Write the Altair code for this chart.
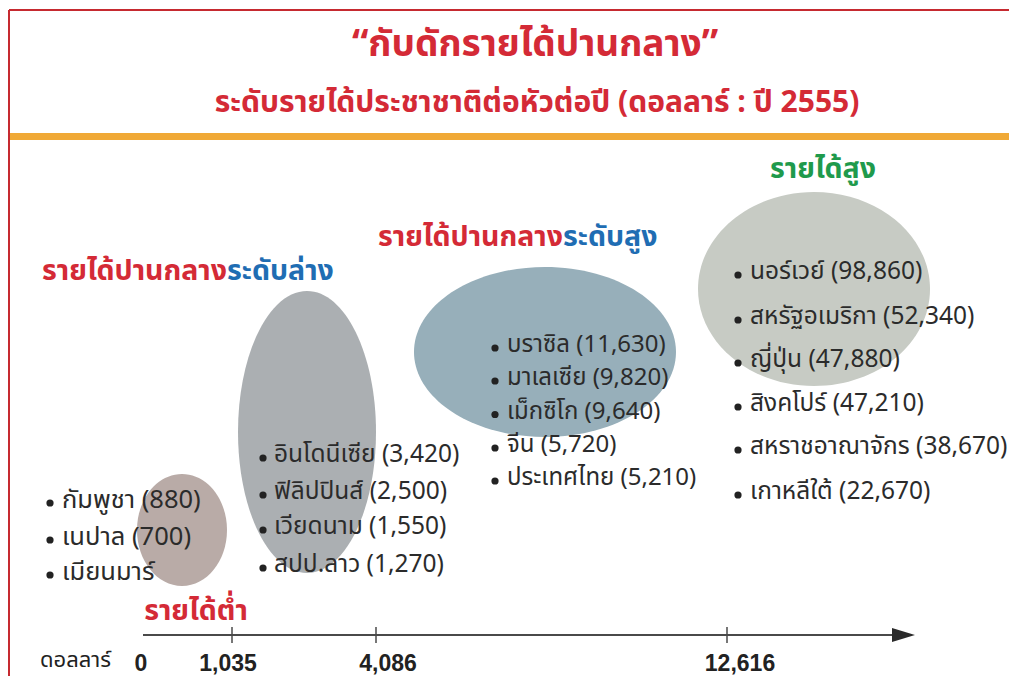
import altair as alt
import pandas as pd

# ---------------- data ----------------
title = "“กับดักรายได้ปานกลาง”"
subtitle = "ระดับรายได้ประชาชาติต่อหัวต่อปี (ดอลลาร์ : ปี 2555)"

low_label = "รายได้ต่ำ"
lm_label = ["รายได้ปานกลาง", "ระดับล่าง"]
um_label = ["รายได้ปานกลาง", "ระดับสูง"]
high_label = "รายได้สูง"

low_countries = ["กัมพูชา", "เนปาล", "เมียนมาร์"]
low_income = [880, 700, None]
lm_countries = ["อินโดนีเซีย", "ฟิลิปปินส์", "เวียดนาม", "สปป.ลาว"]
lm_income = [3420, 2500, 1550, 1270]
um_countries = ["บราซิล", "มาเลเซีย", "เม็กซิโก", "จีน", "ประเทศไทย"]
um_income = [11630, 9820, 9640, 5720, 5210]
high_countries = ["นอร์เวย์", "สหรัฐอเมริกา", "ญี่ปุ่น", "สิงคโปร์", "สหราชอาณาจักร", "เกาหลีใต้"]
high_income = [98860, 52340, 47880, 47210, 38670, 22670]

axis_unit = "ดอลลาร์"
thresholds = [0, 1035, 4086, 12616]

# ---------------- layout (page pixels) ----------------
W, H = 1001, 668
xs = alt.Scale(domain=[8, 8 + W], range=[0, W], zero=False, nice=False)
ys = alt.Scale(domain=[8, 8 + H], range=[0, H], zero=False, nice=False)
X = lambda f="x": alt.X(f"{f}:Q", scale=xs, axis=None)
Y = lambda f="y": alt.Y(f"{f}:Q", scale=ys, axis=None)

RED = "#d42a36"
BLUE = "#1f6db3"
GREEN = "#1f9a4c"
TXT = "#2b2b2b"
FONT = "Noto Sans Thai, Loma, Garuda, Tlwg Typo, Noto Sans, DejaVu Sans, sans-serif"

def ellipse_path(ratio):
    k = 0.5523
    r = ratio
    return (f"M 1 0 C 1 {k*r:.4f} {k:.4f} {r:.4f} 0 {r:.4f} "
            f"C {-k:.4f} {r:.4f} -1 {k*r:.4f} -1 0 "
            f"C -1 {-k*r:.4f} {-k:.4f} {-r:.4f} 0 {-r:.4f} "
            f"C {k:.4f} {-r:.4f} 1 {-k*r:.4f} 1 0 Z")

# ellipse: center x, center y, width, height, colour
ellipses = [
    (182, 530, 90, 112, "#b9aba7"),
    (307, 432, 138, 282, "#abafb2"),
    (545, 352, 262, 170, "#97afba"),
    (814, 289, 232, 194, "#c7cbc4"),
]

def text_layer(rows, size, weight="normal", align="left", font=FONT):
    df = pd.DataFrame(rows, columns=["x", "y", "t", "c"])
    return alt.Chart(df).mark_text(
        align=align, baseline="middle", fontSize=size, fontWeight=weight, font=font
    ).encode(x=X(), y=Y(), text="t:N", color=alt.Color("c:N", scale=None))

layers = []

# frame
frame = pd.DataFrame({"x": [9, 9], "x2": [1017, 9], "y": [10, 10], "y2": [10, 684]})
layers.append(alt.Chart(frame).mark_rule(color="#c62a30", strokeWidth=2).encode(
    x=X(), x2="x2:Q", y=Y(), y2="y2:Q"))
bar = pd.DataFrame({"x": [10], "x2": [1017], "y": [136.5]})
layers.append(alt.Chart(bar).mark_rule(color="#f0a936", strokeWidth=7).encode(
    x=X(), x2="x2:Q", y=Y()))

# ellipses
for cx, cy, w, h, col in ellipses:
    layers.append(alt.Chart(pd.DataFrame({"x": [cx], "y": [cy]})).mark_point(
        shape=ellipse_path(h / w), size=w * w, filled=True, opacity=1, color=col, strokeWidth=0
    ).encode(x=X(), y=Y()))

# titles
layers.append(text_layer([(535, 45, title, RED)], 37, "bold", "center"))
layers.append(text_layer([(537, 103, subtitle, RED)], 30, "bold", "center"))

# group headers
hdr = [
    (227, 271, lm_label[0], RED, "right"), (227, 271, lm_label[1], BLUE, "left"),
    (563, 237, um_label[0], RED, "right"), (563, 237, um_label[1], BLUE, "left"),
    (823, 169, high_label, GREEN, "center"), (196, 611, low_label, RED, "center"),
]
for x, y, t, c, a in hdr:
    layers.append(text_layer([(x, y, t, c)], 28.5, "bold", a))

# country lists
def items(names, vals):
    return [n + (f" ({v:,})" if v is not None else "") for n, v in zip(names, vals)]

# bullet x, text x, line y's, font size
lists = [
    (50, 62, [500, 537, 572], items(low_countries, low_income), 25.5),
    (263, 274, [455, 492, 527, 565], items(lm_countries, lm_income), 24.5),
    (495, 507, [345, 378, 411.5, 445, 478], items(um_countries, um_income), 24),
    (738, 750, [272, 317, 360, 404, 447, 492], items(high_countries, high_income), 24.5),
]
for bx, tx, yl, txts, fs in lists:
    rows = [(tx, yy, t, TXT) for yy, t in zip(yl, txts)]
    layers.append(text_layer(rows, fs))
    dots = pd.DataFrame({"x": [bx] * len(yl), "y": [yy + 3 for yy in yl]})
    layers.append(alt.Chart(dots).mark_circle(size=52, color="#222222", opacity=1).encode(
        x=X(), y=Y()))

# axis
axis_y = 635
ax = pd.DataFrame({"x": [143], "x2": [895], "y": [axis_y]})
layers.append(alt.Chart(ax).mark_rule(color="#4a4a4a", strokeWidth=2.2).encode(
    x=X(), x2="x2:Q", y=Y()))
layers.append(alt.Chart(pd.DataFrame({"x": [903.5], "y": [axis_y]})).mark_point(
    shape="M -1 -0.6 L 1 0 L -1 0.6 Z", size=23 * 23, filled=True, opacity=1,
    color="#2a2a2a", strokeWidth=0).encode(x=X(), y=Y()))
tick_x = [232, 376, 727]
ticks = pd.DataFrame({"x": tick_x, "y": [627] * 3, "y2": [643] * 3})
layers.append(alt.Chart(ticks).mark_rule(color="#4a4a4a", strokeWidth=1.5).encode(
    x=X(), y=Y(), y2="y2:Q"))
label_x = [141, 228, 388, 740]
labs = [(lx, 664, f"{v:,}", "#222222") for lx, v in zip(label_x, thresholds)]
layers.append(text_layer(labs, 23, "bold", "center", "Liberation Sans, Arial, sans-serif"))
layers.append(text_layer([(111, 660, axis_unit, "#222222")], 22, "normal", "right"))

chart = alt.layer(*layers).properties(
    width=W, height=H, padding=0, autosize=alt.AutoSizeParams(type="none"),
    background="white"
).configure_view(stroke=None)

chart.save("out.html", embed_options={"renderer": "svg", "actions": False})
